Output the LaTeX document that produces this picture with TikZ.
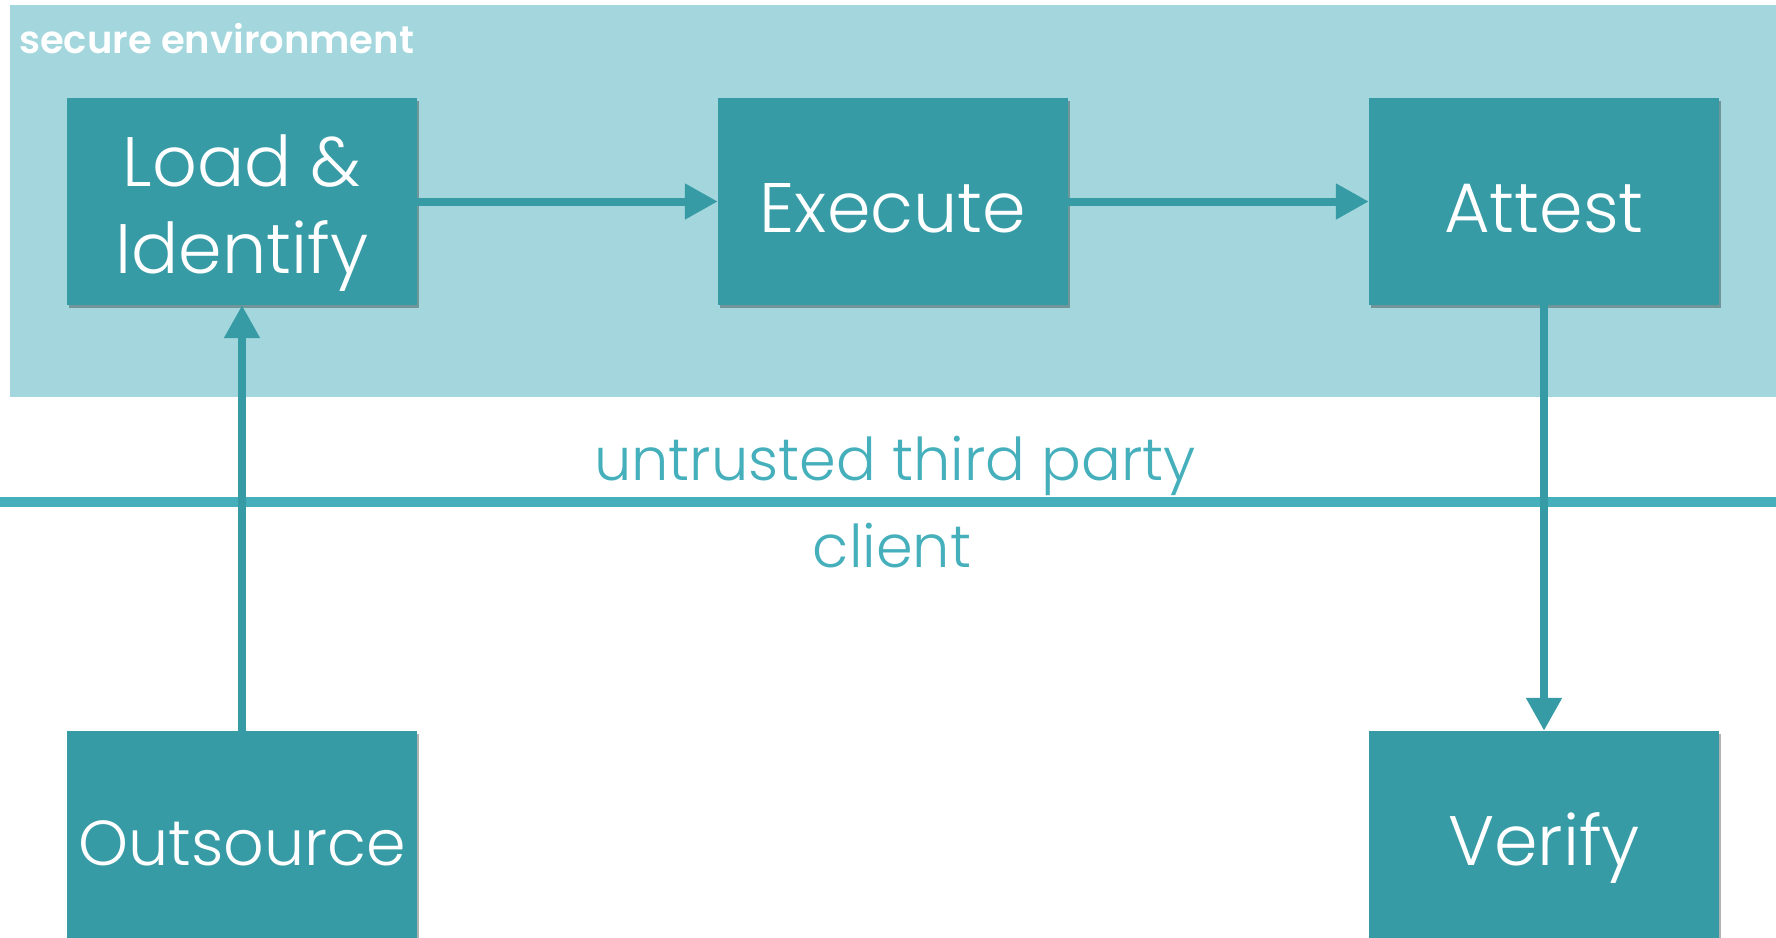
\documentclass[tikz,border=0pt]{standalone}
\usepackage{fontspec}
\setmainfont{Poppins}[UprightFont=* Light, BoldFont=* SemiBold]
\usetikzlibrary{arrows.meta,shadows}
\definecolor{boxc}{HTML}{379BA6}
\definecolor{envc}{HTML}{A3D7DD}
\definecolor{linec}{HTML}{45B0BC}
\tikzset{
  stepbox/.style={rectangle, fill=boxc, minimum width=350pt, minimum height=207pt,
    inner sep=0pt, text=white, font=\fontsize{70}{87}\selectfont,
    drop shadow={shadow xshift=2pt, shadow yshift=-3pt, opacity=0.3, fill=black}},
  boxtext/.style={inner sep=0pt, text=white, font=\fontsize{70}{87}\selectfont},
  fixtext/.style={text height=61pt, text depth=0pt},
  flow/.style={draw=boxc, line width=8pt, -{Triangle[length=33pt,width=34pt]}},
  zonelabel/.style={text=linec, font=\fontsize{59}{60}\selectfont, inner sep=0pt, anchor=base}
}
\begin{document}
\begin{tikzpicture}[x=1pt,y=-1pt]
\useasboundingbox (0,0) rectangle (1776,937);
\fill[white] (0,0) rectangle (1776,937);
% secure environment
\fill[envc] (10,5) rectangle (1800,397);
\node[anchor=base west, inner sep=0pt, text=white, font=\bfseries\fontsize{38.5}{40}\selectfont] (envlabel) at (19,53) {secure environment};
% boundary line
\coordinate (bl) at (-20,502);
\coordinate (br) at (1800,502);
\draw[linec, line width=10pt] (bl) -- (br);
\node[zonelabel] (utp) at (895,480) {untrusted third party};
\node[zonelabel] (cli) at (892,567) {client};
% boxes
\node[stepbox] (load) at (242,201.5) {};
\node[boxtext, align=center] (loadtxt) at (242,213) {Load \&\\Identify};
\node[stepbox, fixtext] (exec) at (893,201.5) {Execute};
\node[stepbox, fixtext] (att) at (1544,201.5) {Attest};
\node[stepbox, fixtext, font=\fontsize{63.5}{70}\selectfont] (out) at (242,834.5) {Outsource};
\node[stepbox, fixtext] (ver) at (1544,834.5) {Verify};
% connectors
\draw[flow] (load) -- (exec);
\draw[flow] (exec) -- (att);
\draw[flow] (out) -- (load);
\draw[flow] (att) -- (ver);
\end{tikzpicture}
\end{document}
